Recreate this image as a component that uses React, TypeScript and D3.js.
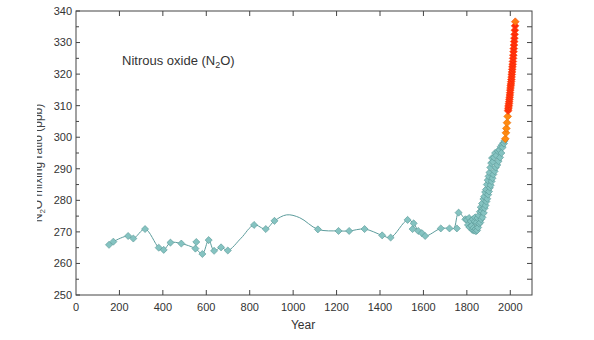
import React from "react";
import * as d3 from "d3";

// proxy (ice core / firn) values, teal diamonds
const tealYears = [
  152, 172, 240, 264, 318, 381, 404, 435, 485, 550, 554, 582, 611, 636, 668, 699,
  820, 874, 914, 1114, 1209, 1258, 1329, 1410, 1449, 1527, 1550, 1555, 1576, 1593,
  1608, 1680, 1720, 1754, 1762, 1793, 1800, 1805, 1810, 1812, 1818, 1822, 1825,
  1828, 1830, 1833, 1836, 1838, 1840, 1842, 1845, 1847, 1849, 1852, 1855, 1857,
  1860, 1862, 1864, 1866, 1868, 1870, 1872, 1874, 1876, 1878, 1880, 1882, 1884,
  1886, 1888, 1890, 1892, 1894, 1896, 1898, 1900, 1902, 1904, 1906, 1908, 1910,
  1912, 1914, 1916, 1918, 1920, 1922, 1925, 1928, 1930, 1933, 1936, 1940, 1943,
  1946, 1950, 1953, 1956, 1959, 1962, 1965, 1968, 1971, 1974,
];
const tealValues = [
  265.9, 266.9, 268.7, 267.9, 270.9, 265.0, 264.3, 266.6, 266.3, 264.7, 266.8, 263.0,
  267.4, 264.0, 265.1, 264.1, 272.2, 270.9, 273.5, 270.8, 270.3, 270.3, 270.9, 268.9,
  268.2, 273.8, 270.9, 272.7, 270.3, 269.6, 268.7, 271.1, 271.1, 271.1, 276.1, 274.0,
  273.8, 272.2, 274.4, 271.5, 273.4, 271.9, 270.6, 274.0, 271.2, 270.4, 273.3, 274.6,
  270.9, 270.2, 273.0, 270.5, 274.4, 271.4, 275.2, 272.6, 276.4, 273.0, 277.8, 274.0,
  276.6, 279.0, 274.6, 277.4, 280.4, 276.0, 281.2, 277.5, 282.6, 278.4, 283.4, 279.6,
  285.0, 280.5, 286.4, 281.8, 287.6, 282.8, 288.8, 284.0, 290.4, 284.8, 291.8, 286.0,
  293.4, 287.0, 292.2, 288.2, 293.6, 289.2, 295.0, 290.4, 294.2, 291.2, 295.6, 292.4,
  296.0, 293.6, 297.0, 295.0, 297.6, 296.8, 298.2, 298.0, 298.9,
];

// early instrumental record, orange
const orangeYears = [1977, 1980, 1982, 1985, 1988];
const orangeValues = [299.5, 301.4, 302.8, 304.6, 306.6];

// recent instrumental record, red
const redYears = [
  1990, 1991, 1992, 1993, 1994, 1995, 1996, 1997, 1998, 1999, 2000, 2001, 2002,
  2003, 2004, 2005, 2006, 2007, 2008, 2009, 2010, 2011, 2012, 2013, 2014, 2015,
  2016, 2017, 2018, 2019, 2020, 2021, 2022, 2023,
];
const redValues = [
  308.4, 309.0, 309.6, 310.1, 310.7, 311.3, 312.0, 312.7, 313.4, 314.1, 314.9, 315.6,
  316.3, 316.9, 317.6, 318.3, 319.1, 319.9, 320.7, 321.5, 322.3, 323.1, 324.0, 325.0,
  326.0, 327.1, 328.1, 329.2, 330.3, 331.4, 332.6, 333.9, 335.3, 336.6,
];

// smoothed fit line
const lineYears = [
  152, 172, 240, 264, 318, 381, 404, 435, 485, 550, 582, 611, 636, 668, 699, 760,
  820, 874, 914, 970, 1030, 1114, 1209, 1258, 1329, 1410, 1449, 1527, 1555, 1576,
  1608, 1680, 1720, 1740, 1762, 1793, 1830, 1860, 1880, 1900, 1920, 1940, 1960, 1977,
];
const lineValues = [
  265.9, 266.9, 268.7, 267.9, 270.9, 265.0, 264.3, 266.6, 266.3, 264.7, 263.0, 267.4,
  264.0, 265.1, 264.1, 268.0, 272.2, 270.9, 273.5, 275.4, 274.5, 270.8, 270.3, 270.3,
  270.9, 268.9, 268.2, 273.8, 272.7, 270.3, 268.7, 271.1, 271.1, 271.1, 276.1, 274.0,
  272.6, 273.6, 277.0, 281.0, 286.0, 290.5, 295.0, 299.3,
];

const xTicks = [0, 200, 400, 600, 800, 1000, 1200, 1400, 1600, 1800, 2000];
const yTicks = [250, 260, 270, 280, 290, 300, 310, 320, 330, 340];
const yMinorTicks = [255, 265, 275, 285, 295, 305, 315, 325, 335];

const W = 594;
const H = 340;
const left = 76;
const right = 532;
const top = 11;
const bottom = 295;

const FONT = "'Liberation Sans', Arial, sans-serif";
const AX = "#444";

export default function App() {
  const x = d3.scaleLinear().domain([0, 2100]).range([left, right]);
  const y = d3.scaleLinear().domain([250, 340]).range([bottom, top]);

  const line = d3
    .line<number>()
    .x((d, i) => x(lineYears[i]))
    .y((d) => y(d))
    .curve(d3.curveCatmullRom.alpha(0.5));

  const diamond = d3.symbol().type(d3.symbolSquare).size(25)();
  const big = d3.symbol().type(d3.symbolSquare).size(30)();

  const rightTicks = d3.range(255, 340, 5);

  return (
    <svg
      width={W}
      height={H}
      style={{ position: "absolute", left: 0, top: 0, background: "#fff" }}
      fontFamily={FONT}
    >
      <defs>
        <clipPath id="ylab">
          <rect x={37} y={0} width={20} height={H} />
        </clipPath>
      </defs>

      {/* fit line */}
      <path d={line(lineValues) || ""} fill="none" stroke="#5c9c9c" strokeWidth={1} />

      {/* teal proxy markers */}
      {tealYears.map((yr, i) => (
        <path
          key={"t" + i}
          d={diamond}
          transform={`translate(${x(yr)},${y(tealValues[i])}) rotate(45)`}
          fill="#85c3c1"
          stroke="#5a9a98"
          strokeWidth={0.6}
        />
      ))}

      {orangeYears.map((yr, i) => (
        <path
          key={"o" + i}
          d={big}
          transform={`translate(${x(yr)},${y(orangeValues[i])}) rotate(45)`}
          fill="#ff8a10"
          stroke="#e86a00"
          strokeWidth={0.6}
        />
      ))}

      {redYears.map((yr, i) => (
        <path
          key={"r" + i}
          d={big}
          transform={`translate(${x(yr)},${y(redValues[i])}) rotate(45)`}
          fill={i === redYears.length - 1 ? "#ff7a10" : "#ff2a08"}
          stroke="#ff4a10"
          strokeWidth={0.6}
        />
      ))}

      {/* frame */}
      <rect
        x={left}
        y={top}
        width={right - left}
        height={bottom - top}
        fill="none"
        stroke={AX}
        strokeWidth={1}
      />

      {/* x ticks: bottom and top, inward */}
      {xTicks.slice(1).map((t) => (
        <g key={"xt" + t}>
          <line x1={x(t)} x2={x(t)} y1={bottom} y2={bottom - 5} stroke={AX} />
          <line x1={x(t)} x2={x(t)} y1={top} y2={top + 5} stroke={AX} />
        </g>
      ))}
      {xTicks.map((t) => (
        <text
          key={"xl" + t}
          x={x(t)}
          y={311}
          textAnchor="middle"
          fontSize={11}
          fill="#333"
        >
          {t}
        </text>
      ))}

      {/* y ticks left */}
      {yTicks.map((t) => (
        <g key={"yt" + t}>
          <line x1={left} x2={left + 4} y1={y(t)} y2={y(t)} stroke={AX} />
          <text
            x={72}
            y={y(t)}
            dy="0.35em"
            textAnchor="end"
            fontSize={11}
            fill="#333"
          >
            {t}
          </text>
        </g>
      ))}
      {yMinorTicks.map((t) => (
        <line key={"ym" + t} x1={left} x2={left + 3} y1={y(t)} y2={y(t)} stroke={AX} />
      ))}

      {/* y ticks right */}
      {rightTicks.map((t) => (
        <line key={"yr" + t} x1={right} x2={right - 5} y1={y(t)} y2={y(t)} stroke={AX} />
      ))}

      {/* axis titles */}
      <text x={303} y={329} textAnchor="middle" fontSize={12} fill="#333">
        Year
      </text>
      <g clipPath="url(#ylab)">
        <text
          transform={`translate(42,${(y(250) + y(340)) / 2 + 10}) rotate(-90)`}
          textAnchor="middle"
          fontSize={12}
          fill="#444"
        >
          N<tspan fontSize={8} dy={3}>2</tspan>
          <tspan dy={-3}>O mixing ratio (ppb)</tspan>
        </text>
      </g>

      {/* title */}
      <text x={122} y={65} fontSize={13} fill="#333">
        Nitrous oxide (N<tspan fontSize={9} dy={3}>2</tspan>
        <tspan dy={-3}>O)</tspan>
      </text>
    </svg>
  );
}
